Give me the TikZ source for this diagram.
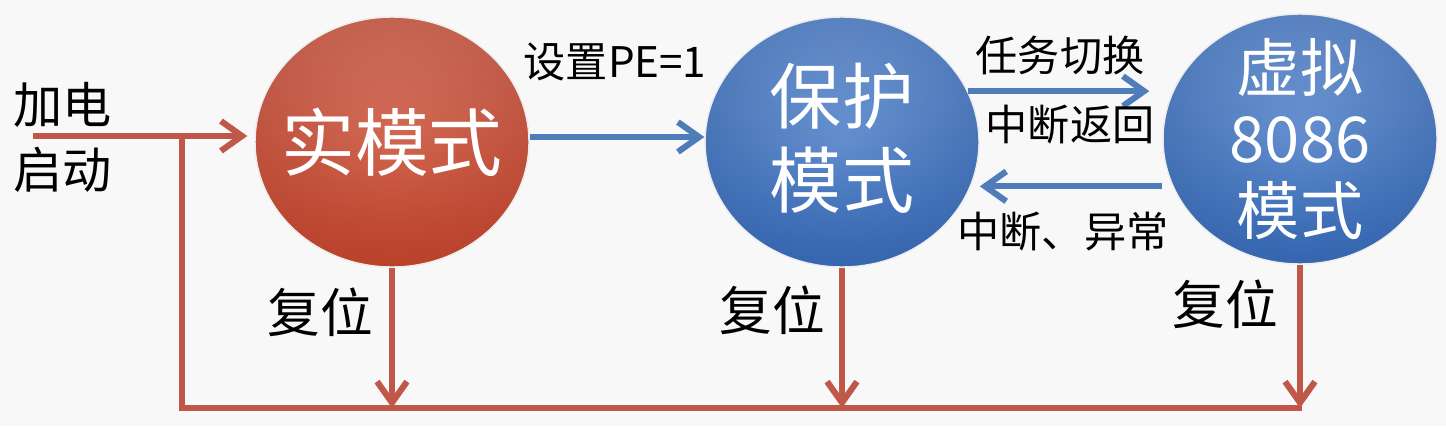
\documentclass[tikz,border=0pt]{standalone}
\usepackage{fontspec}
\setmainfont{Noto Sans CJK SC}
\usetikzlibrary{arrows.meta,shapes.geometric,fadings,calc}
\definecolor{bg}{HTML}{F8F8F8}
\definecolor{redline}{HTML}{C0584A}
\definecolor{blueline}{HTML}{4F7DB9}
\definecolor{redT}{HTML}{DA8472}
\definecolor{redM}{HTML}{C8553E}
\definecolor{redB}{HTML}{C8482E}
\definecolor{redE}{HTML}{A83A28}
\definecolor{blueT}{HTML}{86AADF}
\definecolor{blueM}{HTML}{4F80C6}
\definecolor{blueB}{HTML}{3F72BE}
\definecolor{blueE}{HTML}{2C5AA0}
\tikzfading[name=rim, inner color=transparent!100, outer color=transparent!0]
\tikzset{
  ball/.style={ellipse, minimum width=5.48cm, minimum height=5cm, inner sep=0pt,
    draw=white!85!gray, line width=0.8pt},
  redball/.style={ball, top color=redT, middle color=redM, bottom color=redB},
  blueball/.style={ball, top color=blueT, middle color=blueM, bottom color=blueB},
  balltext/.style={text=white, align=center},
  lbl/.style={text=black, font=\fontsize{24}{28}\selectfont, inner sep=0pt},
  rlbl/.style={text=black, font=\fontsize{30}{34}\selectfont, inner sep=0pt},
  redarrow/.style={draw=redline, line width=3.5pt, -{Straight Barb[length=12pt, width=17pt]}},
  redpath/.style={draw=redline, line width=3.5pt},
  bluearrow/.style={draw=blueline, line width=3.5pt, -{Straight Barb[length=12pt, width=17pt]}}
}
\begin{document}
\begin{tikzpicture}[x=0.02cm, y=-0.02cm]
\useasboundingbox (0,0) rectangle (1446,426);
\fill[bg] (0,0) rectangle (1446,426);

% mode balls
\node[redball] (real) at (392,142) {};
\node[blueball] (prot) at (842,142) {};
\node[blueball] (virt) at (1300,139) {};
\fill[redE, fill opacity=0.45, path fading=rim] (real.center) ellipse [x radius=136, y radius=124];
\fill[blueE, fill opacity=0.5, path fading=rim] (prot.center) ellipse [x radius=136, y radius=124];
\fill[blueE, fill opacity=0.5, path fading=rim] (virt.center) ellipse [x radius=136, y radius=124];
\node[balltext, font=\fontsize{42}{48}\selectfont] (realt) at (real.center) {实模式};
\node[balltext, font=\fontsize{41}{48}\selectfont] (prott) at ([yshift=0.08cm]prot.center) {保护\\模式};
\node[balltext, font=\fontsize{36}{40.5}\selectfont] (virtt) at (virt.center) {虚拟\\8086\\模式};

% power-on
\node[text=black, font=\fontsize{28}{37}\selectfont, align=center, inner sep=0pt] (pwrt) at (63,137) {加电\\启动};
\coordinate (pwr) at (33,136);
\coordinate (junc) at (182,136);
\coordinate (bl) at (182,408);
\coordinate (br) at (1302,408);
\draw[redarrow, shorten >=0.14cm] (pwr) -- (pwr -| real.west);
\draw[redpath] (junc) -- (bl) -- (br);

% reset arrows
\draw[redarrow] (real.south) -- (real.south |- bl);
\draw[redarrow] (prot.south) -- (prot.south |- bl);
\draw[redarrow] (virt.south) -- (virt.south |- bl);
\node[rlbl] (rst1) at (320,312) {复位};
\node[rlbl] (rst2) at (772,310) {复位};
\node[rlbl] (rst3) at (1225,304) {复位};

% blue arrows
\draw[bluearrow] ([yshift=0.1cm]real.east) -- ([yshift=0.1cm]prot.west);
\node[lbl] (pe) at (615,62) {设置PE=1};
\coordinate (ts) at (prot.22.6);
\draw[bluearrow, shorten >=0.26cm] (ts) -- (ts -| virt.west);
\coordinate (ie) at (prot.-19.9);
\draw[bluearrow, shorten >=0.18cm] (ie -| virt.west) -- (ie);
\node[lbl] (task) at (1060,55) {任务切换};
\node[lbl] (iret) at (1070,125) {中断返回};
\node[lbl] (intr) at (1063,232) {中断、异常};
\end{tikzpicture}
\end{document}
